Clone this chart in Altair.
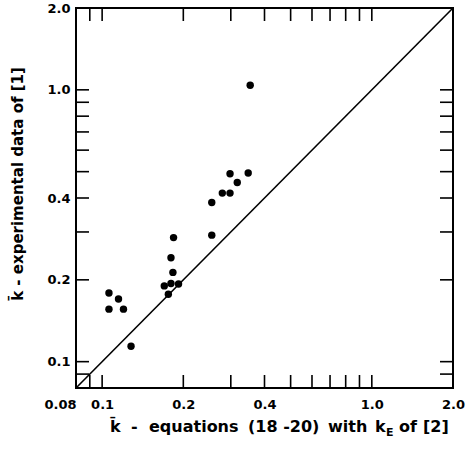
import altair as alt
import pandas as pd

# data (log-log)
x_vals = [0.354, 0.298, 0.348, 0.317, 0.279, 0.298, 0.255, 0.255, 0.184, 0.180,
          0.183, 0.170, 0.180, 0.192, 0.176, 0.106, 0.115, 0.106, 0.120, 0.128]
y_vals = [1.04, 0.491, 0.494, 0.456, 0.417, 0.417, 0.385, 0.292, 0.286, 0.241,
          0.213, 0.190, 0.194, 0.193, 0.177, 0.179, 0.170, 0.156, 0.156, 0.114]
diag = [0.08, 2.0]
tick_vals = [0.09, 0.1, 0.2, 0.3, 0.4, 0.5, 0.6, 0.7, 0.8, 0.9, 1.0]
x_labels = [0.08, 0.1, 0.2, 0.4, 1.0, 2.0]
y_labels = [0.1, 0.2, 0.4, 1.0, 2.0]

# x-axis title pieces (text, left position in px of plot area)
xt_words = ["k\u0304", "-", "equations", "(18 -20)", "with", "k", "of", "[2]"]
xt_left = [34, 55, 73, 172, 252, 299, 323, 347]
y_title = "k\u0304  -  experimental data of [1]"

W, H = 377, 380
FONT = "DejaVu Sans"
TL = 13

pts = pd.DataFrame({"x": x_vals, "y": y_vals})
line_df = pd.DataFrame({"x": diag, "y": diag})
ticks_df = pd.DataFrame({"t": tick_vals})

sx = alt.Scale(type="log", domain=[0.08, 2.0], nice=False)
sy = alt.Scale(type="log", domain=[0.08, 2.0], nice=False)

lbl_expr = "datum.value >= 1 ? format(datum.value, '.1f') : format(datum.value, '~g')"

xaxis = alt.Axis(values=x_labels, labelExpr=lbl_expr, ticks=False, tickSize=0, domain=False,
                 grid=False, title=None, labelFont=FONT, labelFontWeight="bold",
                 labelFontSize=13, labelColor="black", labelPadding=10,
                 labelAlign={"condition": {"test": "datum.value < 0.09", "value": "right"},
                             "value": "center"},
                 labelFlush=False, labelOverlap=False)
yaxis = alt.Axis(values=y_labels, labelExpr=lbl_expr, ticks=False, tickSize=0, domain=False,
                 grid=False, title=None, labelFont=FONT, labelFontWeight="bold",
                 labelFontSize=13, labelColor="black", labelPadding=6,
                 labelFlush=False, labelOverlap=False)

points = alt.Chart(pts).mark_circle(size=55, color="black", opacity=1).encode(
    x=alt.X("x:Q", scale=sx, axis=xaxis),
    y=alt.Y("y:Q", scale=sy, axis=yaxis),
)

diag_line = alt.Chart(line_df).mark_line(color="black", strokeWidth=1.6).encode(
    x=alt.X("x:Q", scale=sx), y=alt.Y("y:Q", scale=sy)
)

tb = alt.Chart(ticks_df).mark_rule(color="black", strokeWidth=1.6).encode(
    x=alt.X("t:Q", scale=sx), y=alt.value(H), y2=alt.value(H - TL))
tt = alt.Chart(ticks_df).mark_rule(color="black", strokeWidth=1.6).encode(
    x=alt.X("t:Q", scale=sx), y=alt.value(0), y2=alt.value(TL))
tl = alt.Chart(ticks_df).mark_rule(color="black", strokeWidth=1.6).encode(
    y=alt.Y("t:Q", scale=sy), x=alt.value(0), x2=alt.value(TL))
tr = alt.Chart(ticks_df).mark_rule(color="black", strokeWidth=1.6).encode(
    y=alt.Y("t:Q", scale=sy), x=alt.value(W), x2=alt.value(W - TL))

one = pd.DataFrame({"a": [0]})
xt_layers = []
for word, left in zip(xt_words, xt_left):
    xt_layers.append(
        alt.Chart(one).mark_text(text=word, font=FONT, fontWeight="bold", fontSize=16,
                                 align="left", baseline="alphabetic", color="black").encode(
            x=alt.value(left), y=alt.value(424)))
sub_e = alt.Chart(one).mark_text(text="E", font=FONT, fontWeight="bold", fontSize=11,
                                 align="left", baseline="alphabetic", color="black").encode(
    x=alt.value(310), y=alt.value(428))
yt = alt.Chart(one).mark_text(text=y_title, font=FONT,
                              fontWeight="bold", fontSize=15, align="center",
                              baseline="middle", angle=270, color="black").encode(
    x=alt.value(-58), y=alt.value(176))

chart = alt.layer(diag_line, tb, tt, tl, tr, points, *xt_layers, sub_e, yt).properties(
    width=W, height=H,
    autosize=alt.AutoSizeParams(type="none"),
    padding={"left": 76, "top": 8, "right": 16, "bottom": 65},
    background="white",
).configure_view(stroke="black", strokeWidth=2)

chart.save("out.html", embed_options={"renderer": "svg", "actions": False})
